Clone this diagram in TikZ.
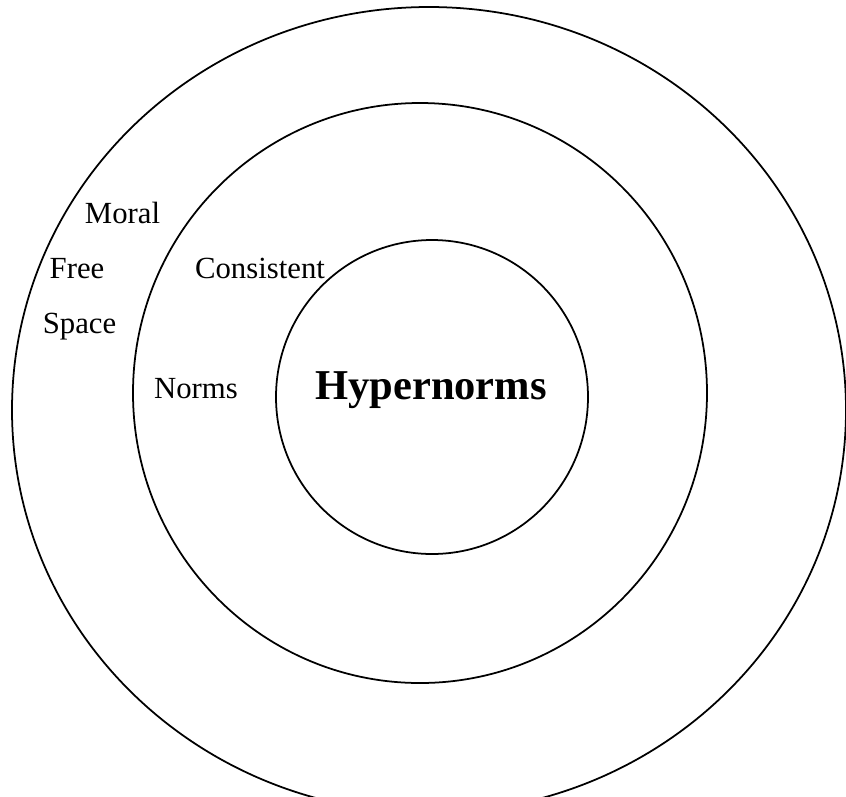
\documentclass[tikz,border=0pt]{standalone}
\usepackage{fontspec}
\setmainfont{Liberation Serif}

\tikzset{
	ring/.style = {draw = black, line width = 1pt},
	zonelabel/.style = {anchor = base, inner sep = 0pt, font = \fontsize{17.5}{21}\selectfont},
	corelabel/.style = {anchor = base, inner sep = 0pt, font = \fontsize{24.2}{29}\selectfont\bfseries}
}

\begin{document}
\begin{tikzpicture}[x = 0.02cm, y = 0.02cm]
	\useasboundingbox (0,0) rectangle (846,-796);
	\clip (0,0) rectangle (846,-796);
	
	% rings
	\draw[ring] (429,-410) ellipse [x radius = 417, y radius = 403];
	\draw[ring] (420,-393) ellipse [x radius = 287, y radius = 290];
	\draw[ring] (432,-397) ellipse [x radius = 156, y radius = 157];
	
	% outer ring
	\node[zonelabel] (moral) at (122.5,-223) {Moral};
	\node[zonelabel] (free) at (77,-278) {Free};
	\node[zonelabel] (space) at (79.5,-333) {Space};
	
	% middle ring
	\node[zonelabel] (consistent) at (260,-278) {Consistent};
	\node[zonelabel] (norms) at (196,-398) {Norms};
	
	% core
	\node[corelabel] (hyper) at (431,-399) {Hypernorms};
\end{tikzpicture}
\end{document}
